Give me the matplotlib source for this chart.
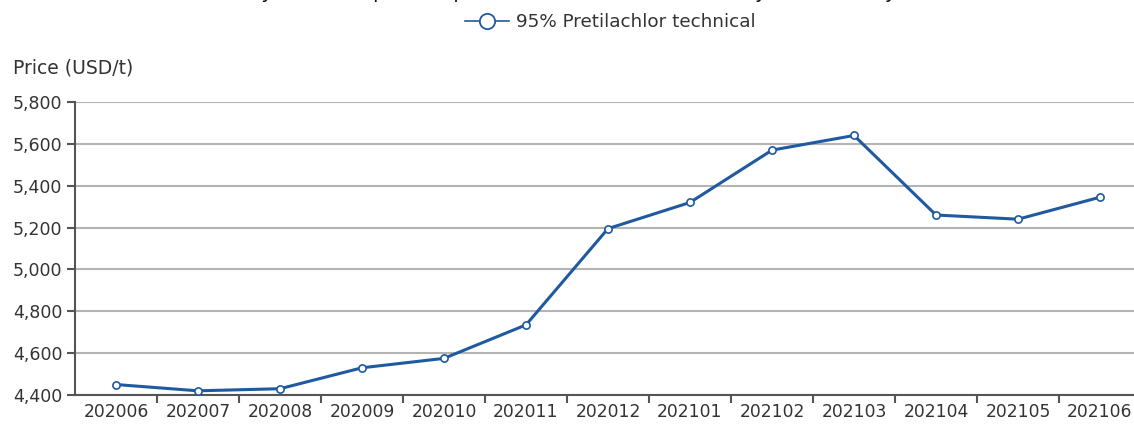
import matplotlib
matplotlib.use("Agg")
import matplotlib.pyplot as plt
from matplotlib.ticker import FuncFormatter, FixedLocator
from matplotlib.lines import Line2D

months = ["202006", "202007", "202008", "202009", "202010", "202011", "202012",
          "202101", "202102", "202103", "202104", "202105", "202106"]
prices = [4450, 4420, 4430, 4530, 4575, 4735, 5195, 5320, 5570, 5640, 5260, 5240, 5345]
series_name = "95% Pretilachlor technical"
y_ticks = [4400, 4600, 4800, 5000, 5200, 5400, 5600, 5800]

LINE = "#1f5aa0"
TXT = "#333333"
GRID = "#b4b4b4"
AX = "#555555"

plt.rcParams['font.family'] = ['DejaVu Sans']

fig = plt.figure(figsize=(11.34, 4.25), dpi=100)
W, H = 1134, 425
left, right, top, bottom = 75, 1141, 102, 395
ax = fig.add_axes([left / W, 1 - bottom / H, (right - left) / W, (bottom - top) / H])

x = list(range(len(months)))
ax.plot(x, prices, color=LINE, lw=2.2, marker="o", ms=5.2, mfc="white",
        mec=LINE, mew=1.2, zorder=3, clip_on=False)

ax.set_xlim(-0.5, len(months) - 0.5)
ax.set_ylim(y_ticks[0], y_ticks[-1])
ax.set_yticks(y_ticks)
ax.yaxis.set_major_formatter(FuncFormatter(lambda v, p: f"{int(v):,}"))
ax.grid(axis="y", color=GRID, lw=1.5, zorder=0)
ax.set_axisbelow(True)

ax.xaxis.set_major_locator(FixedLocator([i + 0.5 for i in range(len(months) - 1)]))
ax.xaxis.set_major_formatter(FuncFormatter(lambda v, p: ""))
ax.xaxis.set_minor_locator(FixedLocator(x))
ax.set_xticklabels(months, minor=True)
ax.tick_params(axis="x", which="major", length=6, width=1.5, color=AX, direction="out")
ax.tick_params(axis="x", which="minor", length=0, pad=6, labelsize=12.3, labelcolor=TXT)
ax.tick_params(axis="y", length=6, width=1.5, color=AX, labelsize=12.5, labelcolor=TXT, pad=3)

for s in ["top", "right"]:
    ax.spines[s].set_visible(False)
for s in ["left", "bottom"]:
    ax.spines[s].set_color(AX)
    ax.spines[s].set_linewidth(1.5)

fig.text(13 / W, 1 - 68 / H, "Price (USD/t)", fontsize=13.5, color=TXT, va="center", ha="left")

fig.text(0.52, 1 + 2 / H,
         "Monthly ex-works price of pretilachlor technical in China, June 2020 to June 2021",
         fontsize=14, color="#111111", ha="center", va="baseline")

handle = Line2D([], [], color=LINE, lw=1.2, marker="o", ms=11, mfc="white", mec=LINE, mew=1.3)
fig.legend([handle], [series_name], loc="center", bbox_to_anchor=(610 / W, 1 - 22 / H),
           frameon=False, fontsize=13.2, labelcolor=TXT, handlelength=2.4, handletextpad=0.4,
           borderpad=0)

fig.savefig("out.png", dpi=100)
